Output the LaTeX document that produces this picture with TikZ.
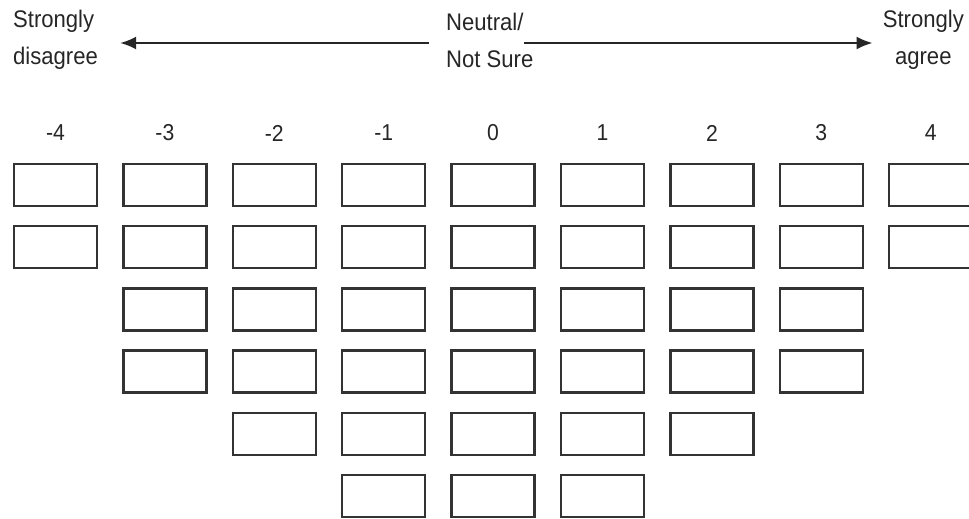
\documentclass[tikz,border=0pt]{standalone}
\usepackage{fontspec}
\setmainfont[FakeStretch=0.92]{Liberation Sans}
\usetikzlibrary{arrows.meta,positioning}
\tikzset{
  cell/.style={draw=black!80, line width=2.4pt, minimum width=83pt, minimum height=42pt, inner sep=0pt},
  score/.style={font=\fontsize{23}{26}\selectfont, inner sep=0pt, text=black!85},
  endlbl/.style={font=\fontsize{24}{37}\selectfont, inner sep=0pt, text=black!85},
  scalearrow/.style={draw=black!85, line width=2.2pt, -{Latex[length=16pt,width=13pt]}}
}

\begin{document}
\begin{tikzpicture}[x=1pt, y=-1pt]
  \useasboundingbox (0,0) rectangle (969,519);
  % scale ends
  \node[endlbl, align=left, anchor=west] (disagree) at (13,40) {Strongly\\disagree};
  \node[endlbl, align=left, anchor=west] (neutral) at (446,40) {Neutral/\\Not Sure};
  \node[endlbl, align=center, anchor=east] (agree) at (964,40) {Strongly\\agree};
  \draw[scalearrow] ([shift={(-17,3)}]neutral.west) -- ([shift={(22,3)}]disagree.east);
  \draw[scalearrow] ([shift={(78,3)}]neutral.west) -- ([shift={(-10,3)}]agree.west);
  % columns: score / number of boxes
  \foreach \v/\n [count=\i from 0] in {-4/2,-3/4,-2/5,-1/6,0/6,1/6,2/5,3/4,4/2} {
    \node[score] (s\i) at (55.5+109.4*\i,133) {\v};
    \foreach \r in {1,...,\n}
      \node[cell] (b\i-\r) at (55.5+109.4*\i,185+62.2*\r-62.2) {};
  }
\end{tikzpicture}
\end{document}
